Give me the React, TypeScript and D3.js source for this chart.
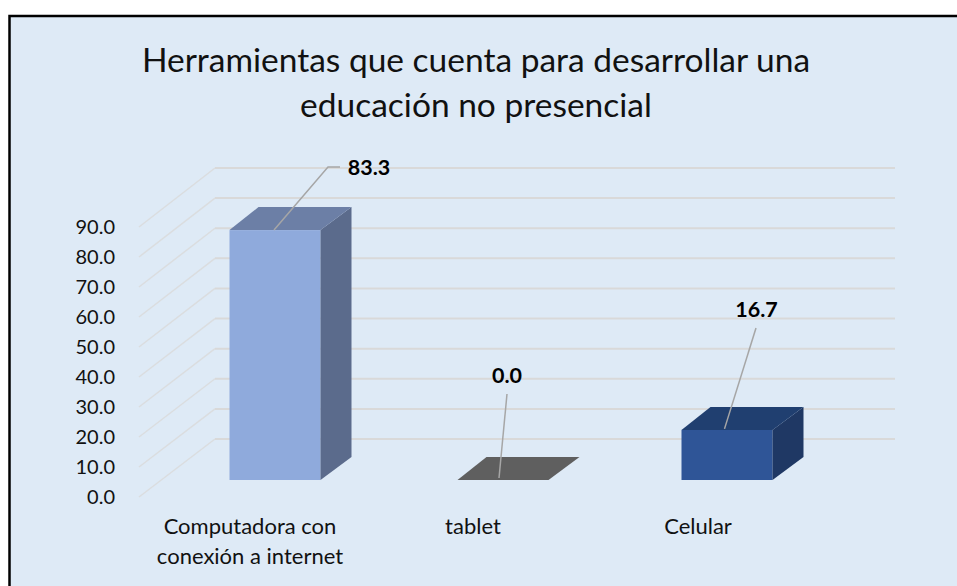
import React from "react";
import * as d3 from "d3";

const titleLines = ["Herramientas que cuenta para desarrollar una", "educación no presencial"];
const categories = ["Computadora con|conexión a internet", "tablet", "Celular"];
const values = [83.3, 0.0, 16.7];
const valueLabels = ["83.3", "0.0", "16.7"];
const ticks = [0, 10, 20, 30, 40, 50, 60, 70, 80, 90];
const frontColors = ["#8FAADC", "#5F5F5F", "#2F5597"];
const topColors = ["#6C7FA6", "#5F5F5F", "#203F70"];
const sideColors = ["#5B6B8C", "#5F5F5F", "#1F3864"];
const FONT = "Lato, 'Open Sans', sans-serif";

const W = 957, H = 586;
const yFront = d3.scaleLinear().domain([0, 90]).range([497, 227]);
const yBack = d3.scaleLinear().domain([0, 90]).range([439, 168]);
const yBar = d3.scaleLinear().domain([0, 90]).range([480, 210]);
const xBar = d3.scaleOrdinal<string, number>().domain(categories).range([229.5, 457.5, 681.5]);
const barW = 91, depthX = 31, depthY = 23;

const labelPos = [
  { lx: 369, ly: 175, path: (x: number, y: number) => `M${x + 44.5},${y}L${328},${167}L${340},${167}` },
  { lx: 507, ly: 383, path: (x: number, y: number) => `M${x + 41.5},${y - 2}L${507},${394}` },
  { lx: 756.5, ly: 317, path: (x: number, y: number) => `M${x + 43},${y - 1}L${756},${328}` },
];
const catLabelX = [250, 473, 698];

export default function App() {
  return (
    <svg width={W} height={H} style={{ position: "absolute", left: 0, top: 0, background: "#fff" }} fontFamily={FONT}>
      <rect x={9.5} y={16} width={960} height={600} fill="#DEEAF6" stroke="#000" strokeWidth={2.5} />
      {titleLines.map((t, i) => (
        <text key={i} x={476} y={72 + i * 45} textAnchor="middle" fontSize={33.5} fill="#111">{t}</text>
      ))}
      {ticks.map((t) => (
        <g key={t}>
          <path d={`M139,${yFront(t)}L215,${yBack(t)}`} fill="none" stroke="#D9D9D9" strokeWidth={1.5} opacity={0.8} />
          <path d={`M215,${yBack(t)}L895,${yBack(t)}`} fill="none" stroke="#D9D9D9" strokeWidth={2} />
          <text x={115} y={yFront(t) + 7} textAnchor="end" fontSize={20} fill="#111">{t.toFixed(1)}</text>
        </g>
      ))}
      {categories.map((c, i) => {
        const x = xBar(c);
        const y0 = yBar(0), y1 = yBar(values[i]);
        const flat = values[i] === 0;
        return (
          <g key={c}>
            {!flat && <rect x={x} y={y1} width={barW} height={y0 - y1} fill={frontColors[i]} />}
            {!flat && <path d={`M${x + barW},${y1}L${x + barW + depthX},${y1 - depthY}L${x + barW + depthX},${y0 - depthY}L${x + barW},${y0}Z`} fill={sideColors[i]} />}
            <path d={`M${x},${y1}L${x + depthX - 2},${y1 - depthY}L${x + barW + depthX},${y1 - depthY}L${x + barW},${y1}Z`} fill={topColors[i]} />
          </g>
        );
      })}
      {categories.map((c, i) => {
        const x = xBar(c), y = yBar(values[i]);
        const p = labelPos[i];
        return (
          <g key={c}>
            <path d={p.path(x, y)} fill="none" stroke="#A6A6A6" strokeWidth={1.5} />
            <text x={p.lx} y={p.ly} textAnchor="middle" fontWeight={700} fontSize={21.5} fill="#000">{valueLabels[i]}</text>
          </g>
        );
      })}
      {categories.map((c, i) =>
        c.split("|").map((l, j) => (
          <text key={l} x={catLabelX[i]} y={534 + j * 30} textAnchor="middle" fontSize={22} fill="#111">{l}</text>
        ))
      )}
    </svg>
  );
}
